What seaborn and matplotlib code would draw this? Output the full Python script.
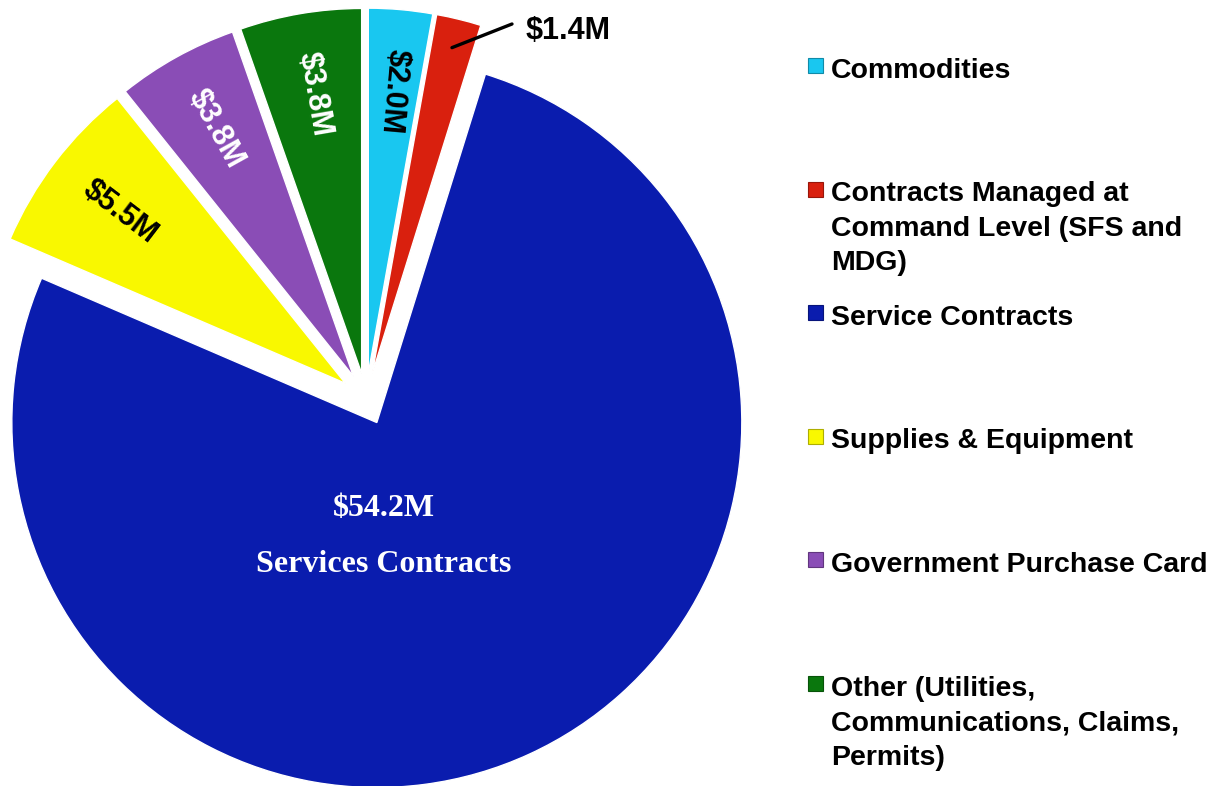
import matplotlib
matplotlib.use("Agg")
import matplotlib.pyplot as plt
from matplotlib.patches import Rectangle
import numpy as np
import seaborn as sns

# Spending by category, in millions of dollars
categories = [
    "Commodities",
    "Contracts Managed at\nCommand Level (SFS and\nMDG)",
    "Service Contracts",
    "Supplies & Equipment",
    "Government Purchase Card",
    "Other (Utilities,\nCommunications, Claims,\nPermits)",
]
spend_musd = [2.0, 1.4, 54.2, 5.5, 3.8, 3.8]
slice_colors = ["#19C7F0", "#D9200E", "#0A1CAE", "#F9F800", "#8A4DB6", "#0A770D"]
value_text_colors = ["black", "black", "white", "black", "white", "white"]

sns.set_theme(style="white")
palette = sns.color_palette(slice_colors)
plt.rcParams["font.family"] = ["Liberation Sans", "DejaVu Sans"]

W, H = 1224, 786
fig = plt.figure(figsize=(W / 100, H / 100), dpi=100)
fig.patch.set_facecolor("white")

scale = 365.0          # pixels per unit pie radius
cx, cy = 366.0, 399.0  # pie origin in pixels from the top-left corner
ax = fig.add_axes([0, 0, 1, 1])
wedges, _ = ax.pie(
    spend_musd,
    colors=palette,
    startangle=90,
    counterclock=False,
    explode=[0.071] * len(spend_musd),
    wedgeprops=dict(edgecolor="white", linewidth=1.0),
    shadow=dict(ox=2.0, oy=-2.0, facecolor="0.6", edgecolor="none", alpha=0.35),
)
ax.set_xlim(-cx / scale, (W - cx) / scale)
ax.set_ylim(-(H - cy) / scale, cy / scale)
ax.set_aspect("equal")
ax.axis("off")


def money(v):
    return f"${v:.1f}M"


def to_data(px, py):
    return (px - cx) / scale, (cy - py) / scale


big = int(np.argmax(spend_musd))
for i, (w, v, tc) in enumerate(zip(wedges, spend_musd, value_text_colors)):
    mid = np.deg2rad((w.theta1 + w.theta2) / 2.0)
    wx, wy = w.center
    if i == big:
        serif = ["Liberation Serif", "DejaVu Serif"]
        ax.text(wx + 0.02, wy - 0.235, money(v), color=tc, ha="center", va="center",
                fontsize=23, fontweight="bold", family=serif)
        ax.text(wx + 0.02, wy - 0.39, "Services Contracts", color=tc, ha="center",
                va="center", fontsize=23, fontweight="bold", family=serif)
    elif v < 1.5:
        # thin slice: value sits outside with a leader line
        px, py = wx + 0.92 * w.r * np.cos(mid), wy + 0.92 * w.r * np.sin(mid)
        ax.annotate("", xy=(px, py), xytext=to_data(512, 24),
                    arrowprops=dict(arrowstyle="-", color="black", lw=2.4,
                                    shrinkA=0, shrinkB=0))
        ax.text(*to_data(526, 31), money(v), color=tc, ha="left", va="center",
                fontsize=22, fontweight="bold")
    else:
        rot = (np.rad2deg(mid) + 180.0) % 360.0
        if rot > 180:
            rot -= 360
        lx, ly = wx + 0.775 * w.r * np.cos(mid), wy + 0.775 * w.r * np.sin(mid)
        ax.text(lx, ly, money(v), color=tc, ha="center", va="center", rotation=rot,
                rotation_mode="anchor", fontsize=22, fontweight="bold")

# Legend on the right: one swatch per category, multi-line names
y0, step, line_step = 77.7, 123.6, 34.5
for i, (lab, col) in enumerate(zip(categories, palette)):
    base = y0 + i * step
    edge = tuple(c * 0.7 for c in col)
    fig.patches.append(Rectangle((808 / W, 1 - (base - 4.7) / H), 15 / W, 15 / H,
                                 transform=fig.transFigure, facecolor=col,
                                 edgecolor=edge, linewidth=0.8))
    for j, line in enumerate(lab.split("\n")):
        fig.text(831 / W, 1 - (base + j * line_step) / H, line, ha="left",
                 va="baseline", fontsize=20.5, fontweight="bold", color="black")

fig.savefig("out.png", dpi=100)
